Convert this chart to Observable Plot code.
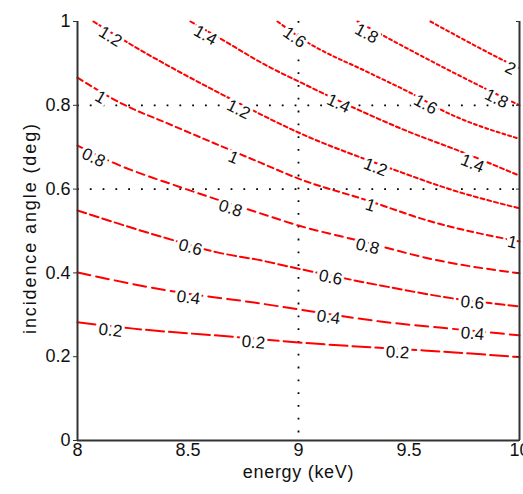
<!DOCTYPE html>
<html><head><meta charset="utf-8">
<script src="https://cdn.jsdelivr.net/npm/d3@7"></script>
<script src="https://cdn.jsdelivr.net/npm/@observablehq/plot@0.6"></script>
<style>body{margin:0;background:#fff;}#chart svg{overflow:visible;}</style>
</head><body><div id="chart"></div>
<script>
// ---- data ----
const levels = [0.2, 0.4, 0.6, 0.8, 1, 1.2, 1.4, 1.6, 1.8, 2];
// contour polylines as [energy (keV), incidence angle (deg)]
const c02 = [[8.000,0.282],[8.253,0.267],[8.738,0.246],[9.000,0.234],[9.339,0.222],[9.566,0.215],[10.0,0.199]];
const c04 = [[8.000,0.401],[8.407,0.358],[8.828,0.327],[9.000,0.313],[9.371,0.284],[9.688,0.267],[10.0,0.251]];
const c06 = [[8.000,0.549],[8.407,0.482],[8.633,0.449],[8.828,0.430],[9.000,0.410],[9.371,0.370],[9.701,0.339],[10.0,0.320]];
const c08 = [[8.000,0.704],[8.149,0.666],[8.480,0.602],[8.828,0.542],[9.000,0.513],[9.281,0.476],[9.629,0.430],[10.0,0.399]];
const c10 = [[8.000,0.866],[8.208,0.802],[8.407,0.757],[8.828,0.663],[9.000,0.625],[9.312,0.573],[9.584,0.525],[10.0,0.475]];
const c12 = [[8.072,1.0],[8.204,0.957],[8.683,0.818],[9.000,0.735],[9.403,0.652],[9.701,0.597],[10.0,0.554]];
const c14 = [[8.511,1.0],[8.615,0.969],[8.873,0.890],[9.000,0.857],[9.326,0.776],[9.475,0.742],[9.747,0.687],[10.0,0.632]];
const c16 = [[8.905,1.0],[9.020,0.957],[9.326,0.876],[9.520,0.826],[9.643,0.790],[10.0,0.720]];
const c18 = [[9.267,1.0],[9.357,0.974],[9.837,0.842],[10.0,0.800]];
const c20 = [[9.597,1.0],[9.928,0.907],[10.0,0.888]];
const contourPoints = [c02, c04, c06, c08, c10, c12, c14, c16, c18, c20];

// contour labels
const labelLevel  = [0.2,0.2,0.2, 0.4,0.4,0.4, 0.6,0.6,0.6, 0.8,0.8,0.8, 1,1,1,1, 1.2,1.2,1.2, 1.4,1.4,1.4, 1.6,1.6, 1.8,1.8, 2];
const labelEnergy = [8.149,8.796,9.448, 8.502,9.136,9.787, 8.511,9.145,9.787, 8.072,8.692,9.312, 8.104,8.706,9.326,9.968, 8.149,8.729,9.348, 8.579,9.181,9.787, 8.982,9.575, 9.308,9.896, 9.959];
const labelAngle  = [0.263,0.234,0.210, 0.341,0.294,0.255, 0.461,0.389,0.329, 0.675,0.554,0.463, 0.819,0.675,0.561,0.473, 0.964,0.790,0.652, 0.967,0.804,0.661, 0.962,0.802, 0.971,0.816, 0.888];

const xTicks = [8, 8.5, 9, 9.5, 10];
const yTicks = [0, 0.2, 0.4, 0.6, 0.8, 1];
const gridX = [9];
const gridY = [0.6, 0.8];
const xLabel = "energy (keV)";
const yLabel = "incidence angle (deg)";

// ---- styles ----
const dashes = ["18,5","13,6","9,4","8,5","6,4","4,3","4,3","3,3","3,3","3,3"];
const FONT = "'Liberation Sans', Arial, Helvetica, sans-serif";

const frameOpts = {
  width: 523, height: 494,
  marginLeft: 77, marginRight: 4, marginTop: 21, marginBottom: 54,
  x: {domain: [8, 10]},
  y: {domain: [0, 1]}
};

// probe to get Plot's own scales for label rotation
const probe = Plot.plot({...frameOpts, marks: [Plot.ruleX([8])]});
const sx = probe.scale("x"), sy = probe.scale("y");

function slopeAngle(pts, e) {
  let i = 0;
  while (i < pts.length - 2 && pts[i + 1][0] < e) i++;
  const [e1, a1] = pts[i], [e2, a2] = pts[i + 1];
  const dx = sx.apply(e2) - sx.apply(e1), dy = sy.apply(a2) - sy.apply(a1);
  return Math.atan2(dy, dx) * 180 / Math.PI;
}

const labels = labelLevel.map((lv, i) => {
  const pts = contourPoints[levels.indexOf(lv)];
  return {level: lv, energy: labelEnergy[i], angle: labelAngle[i], rot: slopeAngle(pts, labelEnergy[i])};
});

const lineMarks = levels.map((lv, i) =>
  Plot.line(contourPoints[i].map(([e, a]) => ({energy: e, angle: a})), {
    x: "energy", y: "angle", stroke: "#ff0000", strokeWidth: 2,
    strokeDasharray: dashes[i], curve: "monotone-x"
  })
);

const chart = Plot.plot({
  ...frameOpts,
  style: {fontFamily: FONT, color: "#111", background: "#fff"},
  marks: [
    Plot.ruleX(gridX, {stroke: "#000", strokeWidth: 1.8, strokeDasharray: "1.8,11"}),
    Plot.ruleY(gridY, {stroke: "#000", strokeWidth: 1.8, strokeDasharray: "1.8,11"}),
    ...lineMarks,
    Plot.text(labels, {
      x: "energy", y: "angle", text: d => String(d.level), rotate: "rot",
      fontSize: 17, fill: "#111", stroke: "white", strokeWidth: 6, fontFamily: FONT
    }),
    Plot.ruleX([8, 10], {stroke: "#333", strokeWidth: 2}),
    Plot.ruleY([0], {stroke: "#333", strokeWidth: 2}),
    Plot.axisY(yTicks, {anchor: "left", tickSize: 4, tickPadding: 3, fontSize: 18, label: null, tickFormat: d => String(d), stroke: "#333"}),
    Plot.axisY(yTicks, {anchor: "right", tickSize: 4, dx: -4, tickFormat: () => "", label: null, stroke: "#333"}),
    Plot.axisX(xTicks, {anchor: "bottom", tickSize: 0, tickPadding: 3, fontSize: 18, label: null, tickFormat: d => String(d)}),
    Plot.text([xLabel], {text: d => d, frameAnchor: "bottom", lineAnchor: "middle", textAnchor: "middle", dy: 32, fontSize: 18, fill: "#111"}),
    Plot.text([yLabel], {text: d => d, frameAnchor: "left", lineAnchor: "middle", textAnchor: "middle", dx: -47, dy: -3, rotate: -90, fontSize: 18, fill: "#111"})
  ]
});

d3.select(chart).selectAll("text")
  .filter(function() { return this.textContent === yLabel; })
  .attr("letter-spacing", "1.9px");
d3.select(chart).selectAll("text")
  .filter(function() { return this.textContent === xLabel; })
  .attr("letter-spacing", "0.7px");

document.getElementById("chart").appendChild(chart);
</script>
</body></html>
